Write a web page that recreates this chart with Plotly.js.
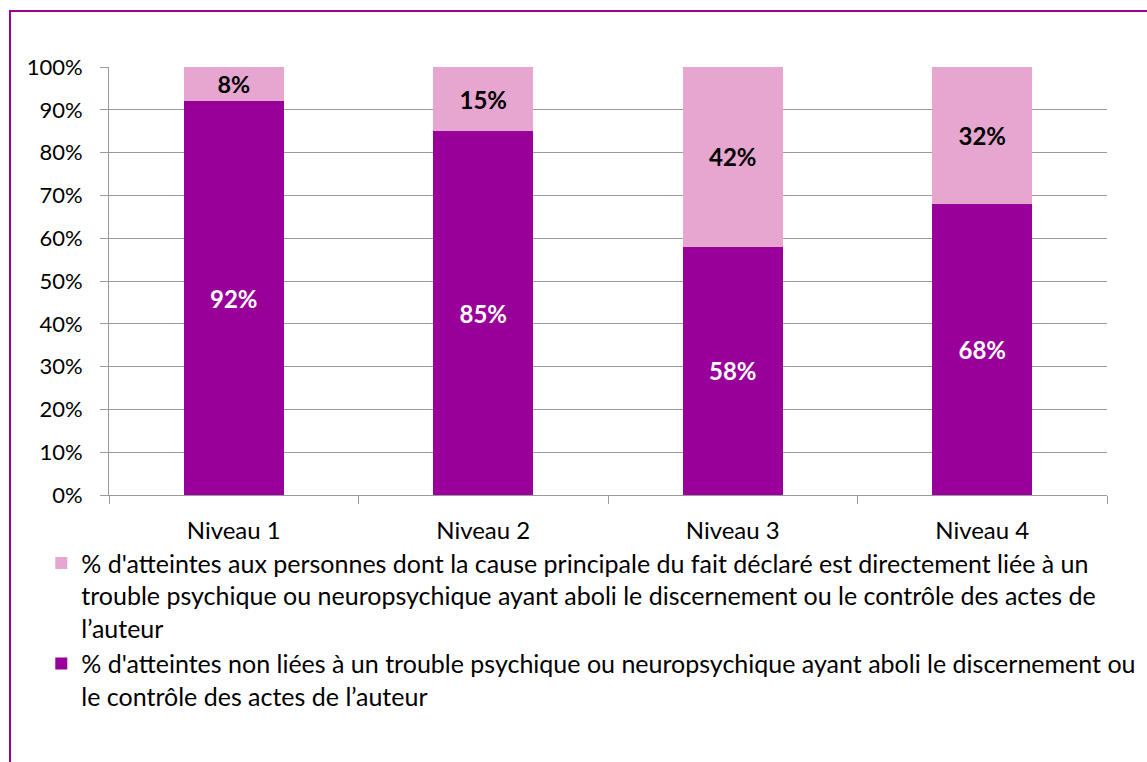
<!DOCTYPE html>
<html>
<head>
<meta charset="utf-8">
<script src="https://cdn.plot.ly/plotly-3.0.1.min.js"></script>
<style>
  html, body { margin: 0; padding: 0; background: #fff; }
  #chart { width: 1147px; height: 762px; }
</style>
</head>
<body>
<div id="chart"></div>
<script>
// Niveaux de gravité
const categories = ['Niveau 1', 'Niveau 2', 'Niveau 3', 'Niveau 4'];

// % non liées à un trouble (partie basse)
const nonLieesValues = [92, 85, 58, 68];
// % liées à un trouble (partie haute)
const lieesValues = [8, 15, 42, 32];

const nonLieesName = "% d'atteintes non liées à un trouble psychique ou neuropsychique ayant aboli le discernement ou<br>le contrôle des actes de l’auteur";
const lieesName = "% d'atteintes aux personnes dont la cause principale du fait déclaré est directement liée à un<br>trouble psychique ou neuropsychique ayant aboli le discernement ou le contrôle des actes de<br>l’auteur";

const yTicks = [0, 10, 20, 30, 40, 50, 60, 70, 80, 90, 100];
const yTickLabels = yTicks.map(v => v + '%');

const fontFamily = 'Lato, "Open Sans", sans-serif';
const gridColor = '#9a9a9a';

const nonLiees = {
    x: categories,
    y: nonLieesValues,
    type: 'bar',
    name: nonLieesName,
    marker: { color: '#990099' },
    texttemplate: '<b>%{y}%</b>',
    textposition: 'inside',
    insidetextanchor: 'middle',
    textangle: 0,
    textfont: { color: '#ffffff', size: 24, family: fontFamily },
    hoverinfo: 'x+y'
};

const liees = {
    x: categories,
    y: lieesValues,
    type: 'bar',
    name: lieesName,
    marker: { color: '#E7A6D0' },
    texttemplate: '<b>%{y}%</b>',
    textposition: 'inside',
    insidetextanchor: 'middle',
    textangle: 0,
    textfont: { color: '#000000', size: 24, family: fontFamily },
    hoverinfo: 'x+y'
};

const layout = {
    width: 1147,
    height: 762,
    font: { family: fontFamily, size: 22, color: '#000000' },
    paper_bgcolor: '#ffffff',
    plot_bgcolor: '#ffffff',
    barmode: 'stack',
    bargap: 0.6,
    showlegend: true,
    margin: { l: 109, r: 40, t: 67, b: 267, pad: 0, autoexpand: false },
    xaxis: {
        showline: true,
        linecolor: gridColor,
        linewidth: 1,
        ticks: 'outside',
        tickson: 'boundaries',
        ticklen: 8,
        tickcolor: gridColor,
        ticklabelstandoff: 14,
        tickangle: 0,
        tickfont: { size: 24 },
        showgrid: false,
        automargin: false,
        fixedrange: true
    },
    yaxis: {
        range: [0, 100],
        tickvals: yTicks,
        ticktext: yTickLabels,
        showline: true,
        linecolor: gridColor,
        linewidth: 1,
        ticks: 'outside',
        ticklen: 8,
        tickcolor: gridColor,
        ticklabelstandoff: 13,
        tickfont: { size: 22 },
        showgrid: true,
        gridcolor: gridColor,
        gridwidth: 1,
        zeroline: false,
        automargin: false,
        fixedrange: true
    },
    legend: {
        xref: 'container',
        yref: 'container',
        x: 0.036,
        y: 0.291,
        xanchor: 'left',
        yanchor: 'top',
        traceorder: 'reversed',
        valign: 'top',
        tracegroupgap: 0,
        font: { family: fontFamily, size: 25, color: '#000000' },
        bgcolor: 'rgba(0,0,0,0)'
    },
    // cadre violet du graphique
    shapes: [{
        type: 'rect',
        xref: 'paper',
        yref: 'paper',
        x0: (10 - 109) / 998,
        x1: (1160 - 109) / 998,
        y0: (495 - 780) / 428,
        y1: (495 - 11) / 428,
        line: { color: '#990099', width: 2 },
        fillcolor: 'rgba(0,0,0,0)',
        layer: 'below'
    }]
};

Plotly.newPlot('chart', [nonLiees, liees], layout, { displayModeBar: false, staticPlot: true });
</script>
</body>
</html>
